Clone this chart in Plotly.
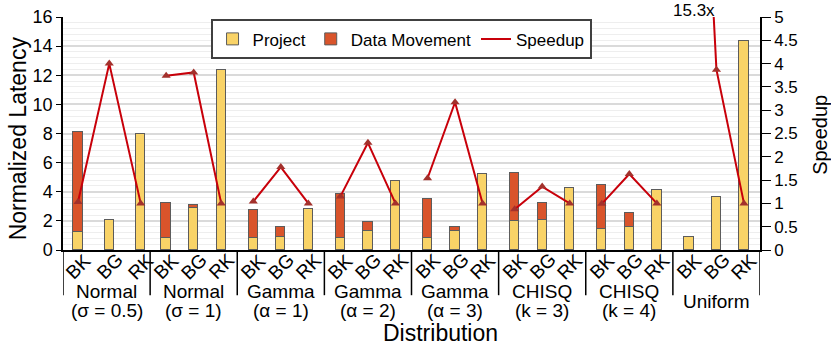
import plotly.graph_objects as go

# ---------------- data ----------------
group_names = ["Normal", "Normal", "Gamma", "Gamma", "Gamma", "CHISQ", "CHISQ", "Uniform"]
group_params = ["(σ = 0.5)", "(σ = 1)", "(α = 1)", "(α = 2)", "(α = 3)", "(k = 3)", "(k = 4)", ""]
methods = ["BK", "BG", "RK"]

project = [1.26, 2.03, 7.97,
           0.85, 2.87, 12.39,
           0.85, 0.92, 2.85,
           0.85, 1.33, 4.74,
           0.85, 1.33, 5.24,
           1.98, 2.09, 4.23,
           1.47, 1.61, 4.09,
           0.87, 3.61, 14.37]
data_movement = [6.85, 0, 0,
                 2.39, 0.21, 0,
                 1.89, 0.64, 0,
                 2.99, 0.60, 0,
                 2.67, 0.26, 0,
                 3.31, 1.11, 0,
                 2.99, 0.94, 0,
                 0, 0, 0]
speedup = [1.03, 4.0, 1.0,
           3.74, 3.81, 1.0,
           1.04, 1.78, 1.0,
           1.15, 2.30, 1.0,
           1.54, 3.17, 1.0,
           0.875, 1.36, 1.0,
           0.99, 1.63, 1.0,
           15.3, 3.87, 1.0]
speedup_label = "15.3x"

# ---------------- layout constants ----------------
FONT = "Liberation Sans"
C_PROJ = "#f9d367"
C_DM = "#d9542b"
C_LINE = "#c8000a"
C_MARK = "#a3312c"
OUTLINE = "#5c5c5c"
OFFSETS_DEFAULT = [0.184, 0.5, 0.816]
OFFSETS_FIRST = [0.172, 0.531, 0.892]
BAR_W = 0.107
n_groups = len(group_names)

xs = []
for g in range(n_groups):
    offs = OFFSETS_FIRST if g == 0 else OFFSETS_DEFAULT
    for o in offs:
        xs.append(g + o)

dm_plot = [v if v > 0 else None for v in data_movement]

# speedup with gaps between groups
sx, sy = [], []
for g in range(n_groups):
    for i in range(3):
        sx.append(xs[g * 3 + i])
        sy.append(speedup[g * 3 + i])
    sx.append(None)
    sy.append(None)

fig = go.Figure()
fig.add_trace(go.Bar(x=xs, y=project, name="Project", width=BAR_W,
                     marker=dict(color=C_PROJ, line=dict(color=OUTLINE, width=1))))
fig.add_trace(go.Bar(x=xs, y=dm_plot, name="Data Movement", width=BAR_W,
                     marker=dict(color=C_DM, line=dict(color=OUTLINE, width=1))))
fig.add_trace(go.Scatter(x=sx, y=sy, name="Speedup", mode="lines", yaxis="y2",
                         line=dict(color=C_LINE, width=2), connectgaps=False))
fig.add_trace(go.Scatter(x=sx, y=sy, mode="markers", yaxis="y2", showlegend=False,
                         marker=dict(symbol="triangle-up", size=8, color=C_MARK)))

annotations = []
for g in range(n_groups):
    for i, m in enumerate(methods):
        annotations.append(dict(x=xs[g * 3 + i], y=-0.069, xref="x", yref="paper",
                                text=m, textangle=-45, showarrow=False,
                                xanchor="center", yanchor="middle",
                                font=dict(family=FONT, size=19, color="black")))
    if group_params[g]:
        annotations.append(dict(x=g + 0.5, y=-0.176, xref="x", yref="paper",
                                text=group_names[g], showarrow=False,
                                xanchor="center", yanchor="middle",
                                font=dict(family=FONT, size=19, color="black")))
        annotations.append(dict(x=g + 0.5, y=-0.258, xref="x", yref="paper",
                                text=group_params[g], showarrow=False,
                                xanchor="center", yanchor="middle",
                                font=dict(family=FONT, size=19, color="black")))
    else:
        annotations.append(dict(x=g + 0.5, y=-0.221, xref="x", yref="paper",
                                text=group_names[g], showarrow=False,
                                xanchor="center", yanchor="middle",
                                font=dict(family=FONT, size=19, color="black")))
annotations.append(dict(x=0.541, y=-0.356, xref="paper", yref="paper", text="Distribution",
                        showarrow=False, xanchor="center", yanchor="middle",
                        font=dict(family=FONT, size=23, color="black")))
annotations.append(dict(x=-0.0646, y=0.479, xref="paper", yref="paper", text="Normalized Latency",
                        textangle=-90, showarrow=False, xanchor="center", yanchor="middle",
                        font=dict(family=FONT, size=23, color="black")))
annotations.append(dict(x=1.086, y=0.494, xref="paper", yref="paper", text="Speedup",
                        textangle=-90, showarrow=False, xanchor="center", yanchor="middle",
                        font=dict(family=FONT, size=20, color="black")))
annotations.append(dict(x=xs[21], y=1.026, xref="x", yref="paper", text=speedup_label,
                        showarrow=False, xanchor="center", yanchor="middle", xshift=5,
                        borderpad=0, font=dict(family=FONT, size=17, color="black")))

shapes = []
for g in range(n_groups + 1):
    shapes.append(dict(type="line", xref="x", yref="paper", x0=g, x1=g, y0=0, y1=-0.194,
                       line=dict(color="black", width=1.5)))

fig.update_layout(
    width=831, height=348,
    margin=dict(l=63, r=71, t=17, b=98),
    plot_bgcolor="white", paper_bgcolor="white",
    barmode="stack", bargap=0,
    font=dict(family=FONT, size=17, color="black"),
    xaxis=dict(range=[0, n_groups], showticklabels=False, ticks="", showgrid=False,
               zeroline=False, showline=True, linecolor="black", linewidth=1.5, automargin=False),
    yaxis=dict(range=[0, 16], dtick=2, showgrid=True, gridcolor="#dadada", gridwidth=1.5,
               minor=dict(dtick=0.4, showgrid=True, gridcolor="#eeeeee", gridwidth=1),
               ticks="outside", ticklen=5, tickcolor="black", showline=True, linecolor="black",
               linewidth=1.5, zeroline=False, tickfont=dict(size=18), automargin=False),
    yaxis2=dict(range=[0, 5], dtick=0.5, overlaying="y", side="right", showgrid=False,
                ticks="outside", ticklen=9, tickcolor="black", showline=True, linecolor="black",
                linewidth=1.5, zeroline=False, tickfont=dict(size=17), automargin=False),
    legend=dict(orientation="h", x=0.485, y=0.99, xanchor="center", yanchor="top",
                bgcolor="white", bordercolor="#404040", borderwidth=2,
                font=dict(family=FONT, size=17), traceorder="normal",
                itemwidth=30, tracegroupgap=0),
    annotations=annotations,
    shapes=shapes,
    showlegend=True,
)

fig.write_html("out.html", config={"displayModeBar": False},
               post_script="document.body.style.margin='0';document.body.style.overflow='hidden';")
